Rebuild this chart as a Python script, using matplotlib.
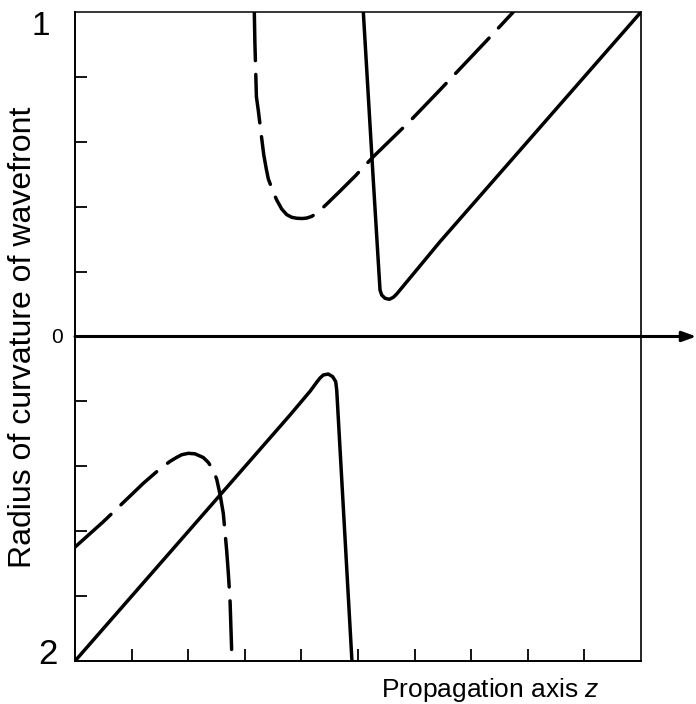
import matplotlib
matplotlib.use('Agg')
import matplotlib.pyplot as plt

plt.rcParams['font.family'] = ['Liberation Sans', 'DejaVu Sans']
plt.rcParams['mathtext.fontset'] = 'custom'
plt.rcParams['mathtext.rm'] = 'Liberation Sans'
plt.rcParams['mathtext.it'] = 'Liberation Sans:italic'

# beam with short Rayleigh range (solid)
solid_pos_z = [0.094, 0.270, 0.389, 0.419, 0.477, 0.553, 0.624, 0.684, 1.449, 5.0]
solid_pos_R = [5.0, 2.41, 0.716, 0.639, 0.589, 0.573, 0.604, 0.655, 1.461, 5.0]
solid_neg_z = [-5.0, -1.201, -0.848, -0.730, -0.671, -0.613, -0.525, -0.447,
               -0.394, -0.376, -0.111, -0.106]
solid_neg_R = [-5.0, -1.210, -0.845, -0.705, -0.640, -0.593, -0.578, -0.619,
               -0.696, -0.824, -4.94, -5.0]

# beam with long Rayleigh range (dashed)
dash_pos_z = [-1.832, -1.822, -1.795, -1.761, -1.701, -1.665, -1.620, -1.585,
              -1.496, -1.436, -1.348, -1.260, -1.171, -1.083, -0.990, -0.906,
              -0.820, -0.730, -0.553, -0.318, -0.053, 0.270, 0.919, 1.449,
              2.274, 2.744]
dash_pos_R = [5.0, 4.542, 3.695, 3.480, 3.050, 2.800, 2.580, 2.430,
              2.220, 2.103, 1.965, 1.878, 1.837, 1.822, 1.818, 1.825,
              1.850, 1.898, 2.040, 2.240, 2.470, 2.770, 3.320, 3.800,
              4.560, 5.0]
dash_neg_z = [-5.0, -4.50, -3.793, -3.557, -3.440, -3.322, -3.203, -3.115,
              -2.998, -2.880, -2.733, -2.645, -2.556, -2.496, -2.438, -2.380,
              -2.320, -2.291, -2.261, -2.226]
dash_neg_R = [-3.245, -2.854, -2.262, -2.083, -2.000, -1.925, -1.862, -1.822,
              -1.800, -1.808, -1.865, -1.940, -2.060, -2.200, -2.430, -2.724,
              -3.300, -3.649, -4.06, -5.0]

z_ticks = [-4, -3, -2, -1, 0, 1, 2, 3, 4]
R_ticks = [-4, -3, -2, -1, 1, 2, 3, 4]

W, H = 696, 704
fig = plt.figure(figsize=(W / 100, H / 100), dpi=100)
ax = fig.add_axes([75 / W, 1 - 661 / H, 566 / W, 649 / H])
ax.set_xlim(-5, 5)
ax.set_ylim(-5, 5)

lw = 2.5
for z, r in [(solid_pos_z, solid_pos_R), (solid_neg_z, solid_neg_R)]:
    ax.plot(z, r, color='black', lw=lw, solid_joinstyle='round', solid_capstyle='round')
for z, r in [(dash_pos_z, dash_pos_R), (dash_neg_z, dash_neg_R)]:
    ax.plot(z, r, color='black', lw=lw, dashes=(14, 4),
            dash_capstyle='round', dash_joinstyle='round')

# propagation axis with arrow
ax.annotate('', xy=(5.98, 0), xytext=(-5, 0), xycoords='data',
            annotation_clip=False,
            arrowprops=dict(arrowstyle='-|>,head_length=0.7,head_width=0.25',
                            color='black', lw=2.2, mutation_scale=12,
                            shrinkA=0, shrinkB=0))

for s in ax.spines.values():
    s.set_linewidth(1.4)
ax.spines['top'].set_linewidth(1.1)
ax.spines['right'].set_linewidth(1.2)

ax.set_xticks(z_ticks)
ax.set_yticks(R_ticks)
ax.set_xticklabels([])
ax.set_yticklabels([])
ax.tick_params(direction='in', length=8.5, width=1.3, colors='black')

narrow = ['Liberation Sans Narrow', 'Liberation Sans']
fig.text(50 / W, 1 - 11 / H, '1', ha='right', va='top', fontsize=24, family=narrow)
fig.text(63 / W, 1 - 337 / H, '0', ha='right', va='center', fontsize=15, family=narrow)
fig.text(58 / W, 1 - 654 / H, '2', ha='right', va='center', fontsize=25, family=narrow)

fig.text(600 / W, 1 - 690 / H, 'Propagation axis $z$', ha='right', va='center', fontsize=19)
fig.text(23 / W, 1 - 337 / H, 'Radius of curvature of wavefront', rotation=90,
         ha='center', va='center', fontsize=23)

fig.savefig('out.png', dpi=100)
